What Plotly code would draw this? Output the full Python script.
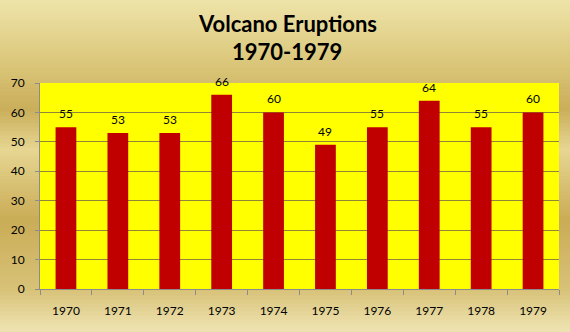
import plotly.graph_objects as go

years = ["1970", "1971", "1972", "1973", "1974", "1975", "1976", "1977", "1978", "1979"]
eruptions = [55, 53, 53, 66, 60, 49, 55, 64, 55, 60]
y_ticks = [0, 10, 20, 30, 40, 50, 60, 70]
title_lines = ["Volcano Eruptions", "1970-1979"]

W, H = 570, 332
ml, mr, mt, mb = 38, 11, 83, 43
pw = W - ml - mr
ph = H - mt - mb
FONT = "Lato, Open Sans, sans-serif"

# background gradient stops (pixel y from top, rgb)
stops = [(0, (238, 228, 170)), (60, (220, 200, 124)), (110, (202, 174, 90)),
         (150, (230, 214, 146)), (220, (202, 172, 86)), (290, (216, 194, 120)),
         (332, (238, 228, 178))]

def col(y):
    for (y0, c0), (y1, c1) in zip(stops, stops[1:]):
        if y0 <= y <= y1:
            t = (y - y0) / (y1 - y0)
            return "rgb(%d,%d,%d)" % tuple(round(a + (b - a) * t) for a, b in zip(c0, c1))
    return "rgb(%d,%d,%d)" % stops[-1][1]

shapes = []
step = 4
for y in range(0, H, step):
    y0p = (H - mb - (y + step)) / ph
    y1p = (H - mb - y) / ph
    shapes.append(dict(type="rect", xref="paper", yref="paper",
                       x0=-ml / pw - 0.01, x1=1 + mr / pw + 0.01,
                       y0=y0p - 0.002, y1=y1p + 0.002, fillcolor=col(y + step / 2),
                       line=dict(width=0), layer="below"))
# yellow plot area on top of gradient
shapes.append(dict(type="rect", xref="paper", yref="paper", x0=0, x1=1, y0=0, y1=1,
                   fillcolor="#FFFF00", line=dict(width=0), layer="below"))

fig = go.Figure(go.Bar(
    x=years, y=eruptions, marker=dict(color="#C00000", line=dict(width=0)),
    width=0.4, hoverinfo="x+y",
))

title_x = (286 - ml) / pw
annotations = [
    dict(text="<b>%s</b>" % title_lines[0], xref="paper", yref="paper", x=title_x,
         y=1 + (mt - 24) / ph, xanchor="center", yanchor="middle", showarrow=False,
         font=dict(family=FONT, size=22, color="#000000")),
    dict(text="<b>%s</b>" % title_lines[1], xref="paper", yref="paper", x=title_x,
         y=1 + (mt - 51) / ph, xanchor="center", yanchor="middle", showarrow=False,
         font=dict(family=FONT, size=22, color="#000000")),
]
for i, v in enumerate(eruptions):
    annotations.append(dict(text=str(v), x=i, y=v, xref="x", yref="y",
                            xanchor="center", yanchor="bottom", yshift=4,
                            showarrow=False,
                            font=dict(family=FONT, size=12, color="#000000")))

fig.update_layout(
    width=W, height=H,
    margin=dict(l=ml, r=mr, t=mt, b=mb),
    paper_bgcolor="rgb(220,200,130)",
    plot_bgcolor="#FFFF00",
    shapes=shapes,
    annotations=annotations,
    showlegend=False,
    font=dict(family=FONT, size=12, color="#000000"),
    xaxis=dict(type="category", categoryorder="array", categoryarray=years,
               range=[-0.5, len(years) - 0.5],
               showgrid=False, ticks="outside", tickson="boundaries", ticklen=5,
               tickcolor="#8C8C8C", showline=True, linecolor="#8C8C8C", linewidth=1,
               tickfont=dict(size=12), ticklabelstandoff=11, tickangle=0),
    yaxis=dict(range=[0, 70], tickvals=y_ticks, showgrid=True, gridcolor="#8F8636",
               gridwidth=1, ticks="outside", ticklen=4, tickcolor="#8C8C8C",
               showline=True, linecolor="#8C8C8C", linewidth=1, zeroline=False,
               tickfont=dict(size=12), ticklabelstandoff=8),
)

fig.write_html("out.html", config={"displayModeBar": False},
               post_script="document.body.style.margin='0';document.body.style.overflow='hidden';")
